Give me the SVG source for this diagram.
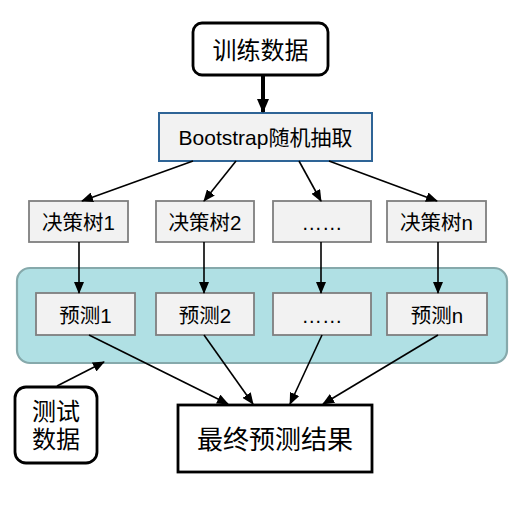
<svg xmlns="http://www.w3.org/2000/svg" width="524" height="506" viewBox="0 0 524 506">
<defs>
<marker id="ah" markerUnits="userSpaceOnUse" markerWidth="12" markerHeight="10" refX="11" refY="5" orient="auto">
<path d="M0,0 L12,5 L0,10 Z" fill="#000"/>
</marker>
<marker id="ahb" markerUnits="userSpaceOnUse" markerWidth="14" markerHeight="12" refX="13" refY="6" orient="auto">
<path d="M0,0 L14,6 L0,12 Z" fill="#000"/>
</marker>
<style>
text{font-family:"Liberation Sans","Noto Sans CJK SC",sans-serif;fill:#000;text-anchor:middle}
.g{fill:#f2f2f2;stroke:#7f7f7f;stroke-width:1.8}
.k{fill:#fff;stroke:#000;stroke-width:2.8}
.c line{stroke:#000;stroke-width:1.6;marker-end:url(#ah)}
.s20{font-size:20.5px}
</style>
</defs>
<g id="panel"><rect x="17" y="268" width="490" height="95" rx="13" fill="#b0e0e4" stroke="#86a9ab" stroke-width="2.2"/></g>
<g id="train"><rect class="k" x="193" y="23" width="135" height="52" rx="9"/><text x="260.5" y="58.5" font-size="24">训练数据</text></g>
<g id="bootstrap"><rect x="159" y="113" width="213" height="48" fill="#f2f2f2" stroke="#2e6496" stroke-width="2"/><text x="265.5" y="145" font-size="21">Bootstrap随机抽取</text></g>
<g id="tree1"><rect class="g" x="29" y="201" width="99" height="41"/><text class="s20" x="78.5" y="230">决策树1</text></g>
<g id="tree2"><rect class="g" x="156" y="201" width="98" height="41"/><text class="s20" x="205" y="230">决策树2</text></g>
<g id="tree3"><rect class="g" x="273" y="201" width="98" height="41"/><text class="s20" x="322" y="230">……</text></g>
<g id="treen"><rect class="g" x="387" y="201" width="99" height="41"/><text class="s20" x="436.5" y="230">决策树n</text></g>
<g id="pred1"><rect class="g" x="36" y="293" width="99" height="42"/><text class="s20" x="85.5" y="323">预测1</text></g>
<g id="pred2"><rect class="g" x="156" y="293" width="98" height="42"/><text class="s20" x="205" y="323">预测2</text></g>
<g id="pred3"><rect class="g" x="273" y="293" width="98" height="42"/><text class="s20" x="322" y="323">……</text></g>
<g id="predn"><rect class="g" x="387" y="293" width="100" height="42"/><text class="s20" x="437" y="323">预测n</text></g>
<g id="test"><rect class="k" x="15" y="387" width="82" height="76" rx="11"/><text x="56" y="419.5" font-size="24">测试</text><text x="56" y="447.5" font-size="24">数据</text></g>
<g id="final"><rect class="k" x="178" y="405" width="194" height="67"/><text x="275" y="449" font-size="26">最终预测结果</text></g>
<g id="connectors" class="c">
<line x1="263" y1="75" x2="263" y2="112" style="stroke-width:4;marker-end:url(#ahb)"/>
<line x1="193" y1="161" x2="82" y2="201"/>
<line x1="236" y1="161" x2="204" y2="201"/>
<line x1="299" y1="161" x2="321" y2="201"/>
<line x1="329" y1="161" x2="437" y2="201"/>
<line x1="79" y1="242" x2="79" y2="293"/>
<line x1="204" y1="242" x2="204" y2="293"/>
<line x1="321" y1="242" x2="321" y2="293"/>
<line x1="438" y1="242" x2="438" y2="293"/>
<line x1="89" y1="335" x2="228" y2="404"/>
<line x1="204" y1="335" x2="253" y2="404"/>
<line x1="322" y1="335" x2="290" y2="404"/>
<line x1="438" y1="335" x2="323" y2="404"/>
<line x1="57" y1="386" x2="104" y2="362"/>
</g>
</svg>
